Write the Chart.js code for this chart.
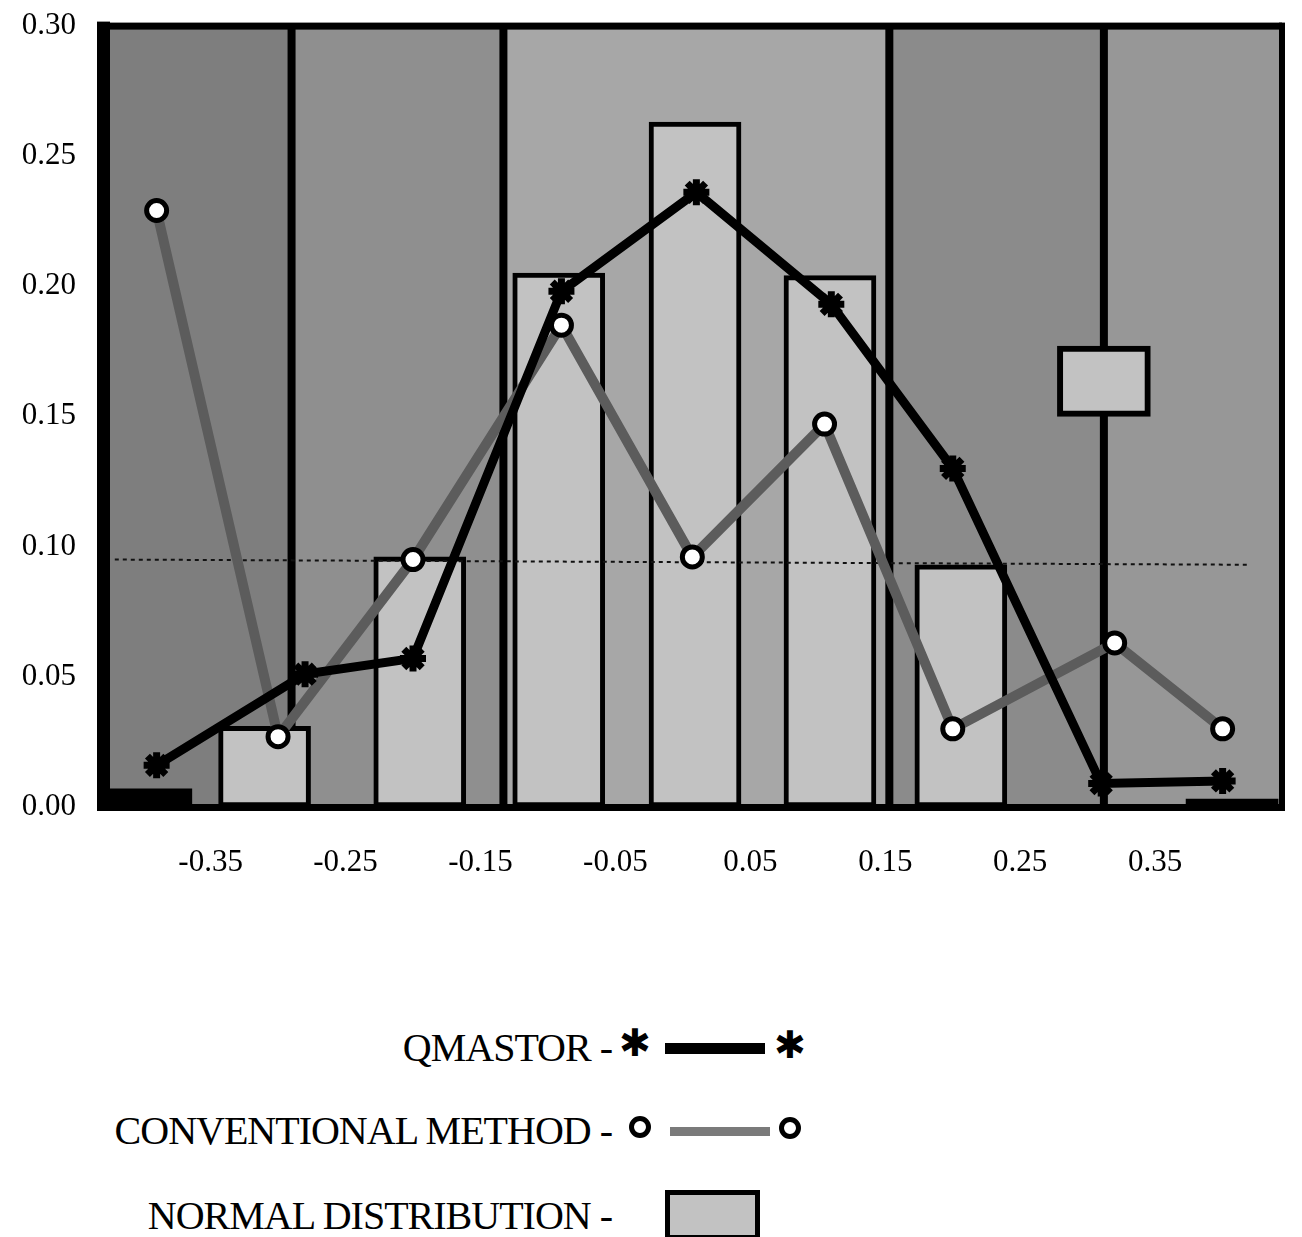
<!DOCTYPE html>
<html>
<head>
<meta charset="utf-8">
<script src="https://cdn.jsdelivr.net/npm/chart.js@4.4.0/dist/chart.umd.min.js"></script>
<style>
  html, body { margin: 0; padding: 0; background: #fff; }
  body { width: 1302px; height: 1237px; position: relative; overflow: hidden; font-family: 'Liberation Serif', 'Times New Roman', serif; }
  #chart-wrap { position: absolute; left: 0; top: -21px; width: 1302px; height: 923px; }
  .legend-label { position: absolute; right: 690px; font-size: 40px; letter-spacing: -1px; line-height: 1; white-space: nowrap; color: #000; }
  .star { position: absolute; font-family: 'DejaVu Sans', sans-serif; font-size: 38px; line-height: 1; font-weight: bold; transform: translate(-50%, -50%); }
  .dot { position: absolute; width: 12px; height: 12px; border: 5px solid #000; border-radius: 50%; background: #fff; transform: translate(-50%, -50%); }
  .bar { position: absolute; }
</style>
</head>
<body>
<div id="chart-wrap"><canvas id="myChart" width="1302" height="923"></canvas></div>

<div class="legend-label" style="top:1028px">QMASTOR -</div>
<div class="star" style="left:635px; top:1043px">✱</div>
<div class="bar" style="left:665px; top:1043px; width:100px; height:11px; background:#000"></div>
<div class="star" style="left:790px; top:1045px">✱</div>

<div class="legend-label" style="top:1111px">CONVENTIONAL METHOD -</div>
<div class="dot" style="left:640px; top:1127px"></div>
<div class="bar" style="left:670px; top:1127px; width:100px; height:9px; background:#7a7a7a"></div>
<div class="dot" style="left:790px; top:1128px"></div>

<div class="legend-label" style="top:1196px">NORMAL DISTRIBUTION -</div>
<div class="bar" style="left:665px; top:1190px; width:85px; height:40px; background:#c2c2c2; border:5px solid #000"></div>

<script>
// values
const qmastorX = [-0.39, -0.28, -0.20, -0.09, 0.01, 0.11, 0.20, 0.31, 0.40];
const qmastorY = [0.016, 0.051, 0.057, 0.198, 0.236, 0.193, 0.130, 0.009, 0.010];

const conventionalX = [-0.39, -0.30, -0.20, -0.09, 0.007, 0.105, 0.20, 0.32, 0.40];
const conventionalY = [0.229, 0.027, 0.095, 0.185, 0.096, 0.147, 0.030, 0.063, 0.030];

const normalX = [-0.31, -0.195, -0.092, 0.009, 0.109, 0.206];
const normalY = [0.031, 0.096, 0.205, 0.263, 0.204, 0.093];

// the stray box near 0.3 and the two thin strips at the ends
const boxX = [0.312];
const boxRange = [[0.150, 0.177]];
const stripX = [-0.398, 0.407];
const stripY = [0.007, 0.003];

// heavy vertical rules and the background bands between them
const dividerX = [-0.290, -0.133, 0.153, 0.312];
const bandEdges = [-0.429, -0.290, -0.133, 0.153, 0.312, 0.444];
const bandShades = ['#7e7e7e', '#8f8f8f', '#a7a7a7', '#8b8b8b', '#979797'];

// dotted reference line
const refX = [-0.421, 0.420];
const refY = [0.095, 0.093];

const xTicks = [-0.35, -0.25, -0.15, -0.05, 0.05, 0.15, 0.25, 0.35];
const yTicks = [0, 0.05, 0.10, 0.15, 0.20, 0.25, 0.30];

const toPoints = (xs, ys) => xs.map((x, i) => ({ x: x, y: ys[i] }));

const bandsPlugin = {
  id: 'bands',
  beforeDatasetsDraw(chart) {
    const { ctx, chartArea, scales } = chart;
    ctx.save();
    for (let i = 0; i < bandShades.length; i++) {
      const x0 = scales.x.getPixelForValue(bandEdges[i]);
      const x1 = scales.x.getPixelForValue(bandEdges[i + 1]);
      ctx.fillStyle = bandShades[i];
      ctx.fillRect(x0, chartArea.top, x1 - x0, chartArea.bottom - chartArea.top);
    }
    ctx.restore();
  },
};

const framePlugin = {
  id: 'frame',
  afterDatasetsDraw(chart) {
    const { ctx, chartArea } = chart;
    const { left, right, top, bottom } = chartArea;
    ctx.save();
    ctx.fillStyle = '#000';
    ctx.fillRect(left - 7, top - 4, 13, bottom - top + 8);
    ctx.fillRect(left, top - 3, right - left, 7);
    ctx.fillRect(right - 3, top - 3, 6, bottom - top + 6);
    ctx.fillRect(left - 7, bottom - 3, right - left + 10, 7);
    ctx.restore();
  },
};

Chart.defaults.font.family = "'Liberation Serif', 'Times New Roman', serif";
Chart.defaults.color = '#000';

const dividerSets = dividerX.map((x) => ({
  type: 'line',
  data: [{ x: x, y: 0 }, { x: x, y: 0.30 }],
  borderColor: '#000',
  borderWidth: 8,
  pointRadius: 0,
  order: 6,
}));

const config = {
  type: 'bar',
  data: {
    datasets: [
      ...dividerSets,
      {
        type: 'bar',
        label: 'NORMAL DISTRIBUTION',
        data: toPoints(normalX, normalY),
        backgroundColor: '#c2c2c2',
        borderColor: '#000',
        borderWidth: 5,
        borderSkipped: false,
        barThickness: 92,
        grouped: false,
        order: 4,
      },
      {
        type: 'bar',
        data: toPoints(boxX, boxRange),
        backgroundColor: '#c2c2c2',
        borderColor: '#000',
        borderWidth: 6,
        borderSkipped: false,
        barThickness: 93,
        grouped: false,
        order: 4,
      },
      {
        type: 'bar',
        data: toPoints(stripX, stripY),
        backgroundColor: '#000',
        borderWidth: 0,
        barThickness: 92,
        grouped: false,
        order: 4,
      },
      {
        type: 'line',
        data: toPoints(refX, refY),
        borderColor: '#111',
        borderWidth: 2,
        borderDash: [4, 4],
        pointRadius: 0,
        order: 3,
      },
      {
        type: 'line',
        label: 'CONVENTIONAL METHOD',
        data: toPoints(conventionalX, conventionalY),
        borderColor: '#5c5c5c',
        borderWidth: 10,
        pointStyle: 'circle',
        pointRadius: 10,
        pointBorderWidth: 5,
        pointBorderColor: '#000',
        pointBackgroundColor: '#fff',
        order: 2,
      },
      {
        type: 'line',
        label: 'QMASTOR',
        data: toPoints(qmastorX, qmastorY),
        borderColor: '#000',
        borderWidth: 9,
        pointStyle: 'star',
        pointRadius: 13,
        pointBorderWidth: 7,
        pointBorderColor: '#000',
        pointBackgroundColor: '#000',
        order: 1,
      },
    ],
  },
  options: {
    responsive: false,
    animation: false,
    devicePixelRatio: 1,
    layout: { padding: { top: 2, right: 15, left: 0, bottom: 0 } },
    plugins: { legend: { display: false }, tooltip: { enabled: false } },
    scales: {
      x: {
        type: 'linear',
        offset: false,
        min: bandEdges[0],
        max: bandEdges[bandEdges.length - 1],
        afterBuildTicks: (scale) => { scale.ticks = xTicks.map((v) => ({ value: v })); },
        afterFit: (scale) => { scale.height = 95; },
        grid: { display: false, drawTicks: false },
        border: { display: false },
        ticks: {
          padding: 37,
          maxRotation: 0,
          autoSkip: false,
          font: { size: 31 },
          callback: (v) => Number(v).toFixed(2),
        },
      },
      y: {
        min: 0,
        max: 0.30,
        afterBuildTicks: (scale) => { scale.ticks = yTicks.map((v) => ({ value: v })); },
        afterFit: (scale) => { scale.width = 104; },
        grid: { display: false, drawTicks: false },
        border: { display: false },
        ticks: {
          padding: 28,
          autoSkip: false,
          font: { size: 31 },
          callback: (v) => Number(v).toFixed(2),
        },
      },
    },
  },
  plugins: [bandsPlugin, framePlugin],
};

const myChart = new Chart(document.querySelector('#myChart'), config);
</script>
</body>
</html>
